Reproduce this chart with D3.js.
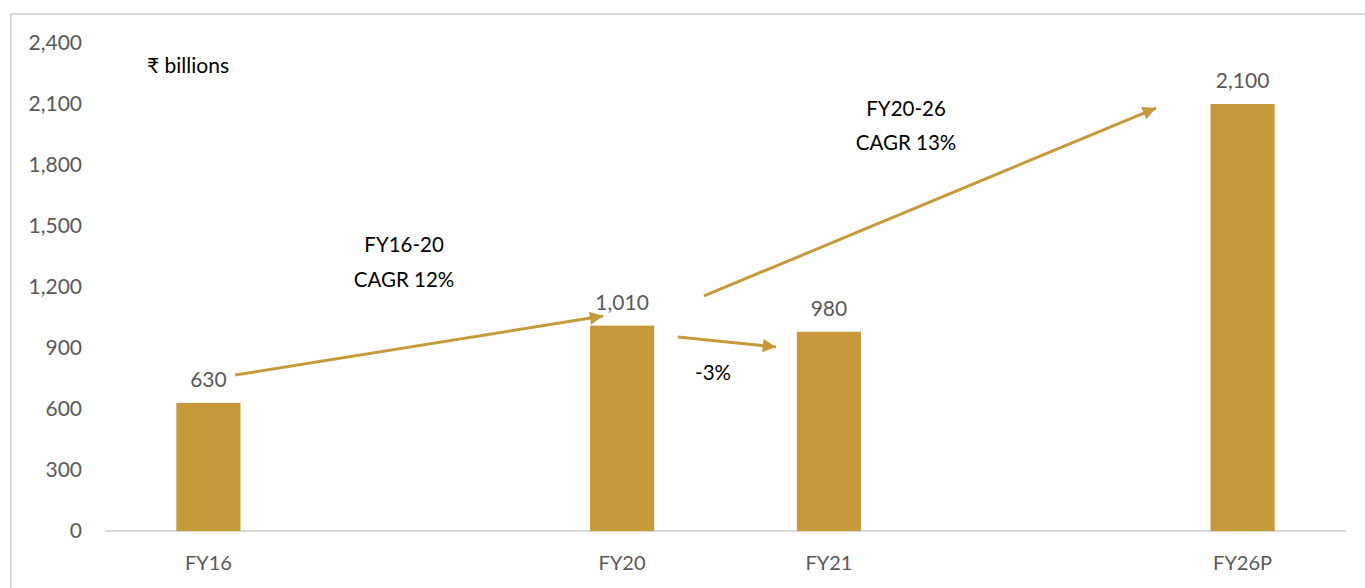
<!DOCTYPE html>
<html>
<head>
<meta charset="utf-8">
<script src="https://cdn.jsdelivr.net/npm/d3@7"></script>
<style>
  body { margin: 0; background: #fff; }
  svg { display: block; font-family: Lato, "Noto Sans", sans-serif; }
  .tick text { fill: #595959; }
</style>
</head>
<body>
<svg width="1365" height="588"></svg>
<script>
// chart values
var categories = ["FY16", "FY20", "FY21", "FY26P"];
var slots      = [0, 2, 3, 5];          // FY17-19 and FY22-25 are left out
var values     = [630, 1010, 980, 2100];
var yTicks     = [0, 300, 600, 900, 1200, 1500, 1800, 2100, 2400];

// growth notes, placed in slot / value units
var notes = [
  { text: "FY16-20",  s: 1.446, v: 1372 },
  { text: "CAGR 12%", s: 1.446, v: 1200 },
  { text: "FY20-26",  s: 3.873, v: 2041 },
  { text: "CAGR 13%", s: 3.873, v: 1874 },
  { text: "-3%",      s: 2.94,  v: 743 }
];
var arrows = [
  { from: [0.629, 767],  to: [2.408, 1057] },
  { from: [2.770, 954],  to: [3.244, 905] },
  { from: [2.896, 1156], to: [5.081, 2080] }
];

var gold = "#c69a3b";

var svg = d3.select("svg");

// frame
svg.append("rect")
  .attr("x", 11).attr("y", 14)
  .attr("width", 1380).attr("height", 600)
  .attr("fill", "none")
  .attr("stroke", "#d9d9d9")
  .attr("stroke-width", 2);

var plotLeft = 105, plotRight = 1346, plotTop = 43, plotBottom = 531;

var x = d3.scaleBand()
  .domain(d3.range(6))
  .range([plotLeft, plotRight])
  .paddingInner(0.69)
  .paddingOuter(0.345);

var xs = d3.scaleLinear().domain([0, 6]).range([plotLeft, plotRight]);

var y = d3.scaleLinear()
  .domain([0, 2400])
  .range([plotBottom, plotTop]);

// y axis labels
var yAxis = svg.append("g")
  .attr("transform", "translate(" + plotLeft + ",0)")
  .call(d3.axisLeft(y).tickValues(yTicks).tickSize(0).tickPadding(23)
    .tickFormat(d3.format(",")));
yAxis.select(".domain").remove();
yAxis.selectAll("text").attr("font-size", 21).attr("font-family", "Lato");

// baseline
svg.append("line")
  .attr("x1", plotLeft).attr("x2", plotRight)
  .attr("y1", y(0)).attr("y2", y(0))
  .attr("stroke", "#d9d9d9").attr("stroke-width", 2);

// bars
svg.selectAll(".bar")
  .data(values)
  .enter().append("rect")
    .attr("class", "bar")
    .attr("x", function(d, i) { return x(slots[i]); })
    .attr("y", function(d) { return y(d); })
    .attr("width", x.bandwidth())
    .attr("height", function(d) { return y(0) - y(d); })
    .attr("fill", gold);

// value labels
svg.selectAll(".val")
  .data(values)
  .enter().append("text")
    .attr("class", "val")
    .attr("x", function(d, i) { return x(slots[i]) + x.bandwidth() / 2; })
    .attr("y", function(d) { return y(d) - 16; })
    .attr("text-anchor", "middle")
    .attr("font-size", 21)
    .attr("fill", "#595959")
    .text(d3.format(","));

// category labels
svg.selectAll(".cat")
  .data(categories)
  .enter().append("text")
    .attr("class", "cat")
    .attr("x", function(d, i) { return x(slots[i]) + x.bandwidth() / 2; })
    .attr("y", 570)
    .attr("text-anchor", "middle")
    .attr("font-size", 20)
    .attr("fill", "#595959")
    .text(function(d) { return d; });

// unit label
svg.append("text")
  .attr("x", xs(0.203)).attr("y", y(2252))
  .attr("font-size", 21)
  .attr("fill", "#000")
  .text("₹ billions");

// arrows
svg.append("defs").append("marker")
  .attr("id", "head")
  .attr("viewBox", "0 0 10 10")
  .attr("refX", 10).attr("refY", 5)
  .attr("markerWidth", 5).attr("markerHeight", 4.4)
  .attr("markerUnits", "strokeWidth")
  .attr("orient", "auto")
  .append("path")
    .attr("d", "M0,0L10,5L0,10Z")
    .attr("fill", gold);

svg.selectAll(".arrow")
  .data(arrows)
  .enter().append("line")
    .attr("class", "arrow")
    .attr("x1", function(d) { return xs(d.from[0]); })
    .attr("y1", function(d) { return y(d.from[1]); })
    .attr("x2", function(d) { return xs(d.to[0]); })
    .attr("y2", function(d) { return y(d.to[1]); })
    .attr("stroke", gold)
    .attr("stroke-width", 3)
    .attr("marker-end", "url(#head)");

svg.selectAll(".note")
  .data(notes)
  .enter().append("text")
    .attr("class", "note")
    .attr("x", function(d) { return xs(d.s); })
    .attr("y", function(d) { return y(d.v); })
    .attr("text-anchor", "middle")
    .attr("font-size", 20.5)
    .attr("fill", "#000")
    .text(function(d) { return d.text; });
</script>
</body>
</html>
